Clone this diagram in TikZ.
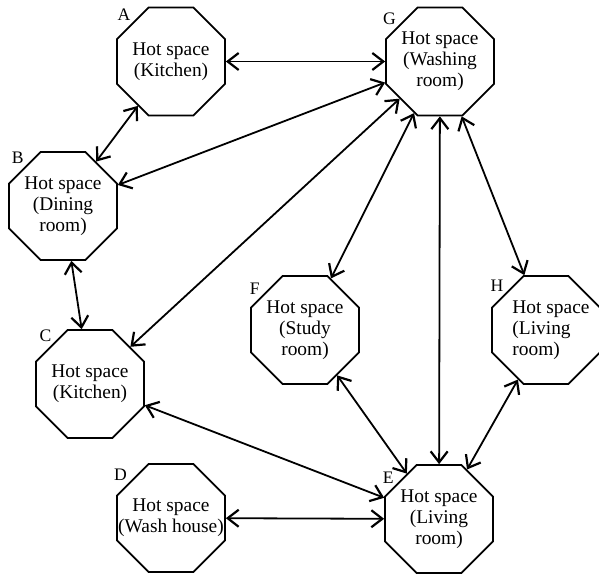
\documentclass[tikz,border=0pt]{standalone}
\usepackage{fontspec}
\setmainfont{Liberation Serif}
\usetikzlibrary{shapes.geometric,arrows.meta}
\tikzset{hot/.style={regular polygon, regular polygon sides=8, draw, minimum size=58.4pt, inner sep=0pt},
         txt/.style={align=center, inner sep=0pt, font=\fontsize{9.7}{10.6}\selectfont},
         tag/.style={inner sep=0.5pt, font=\fontsize{8.8}{10}\selectfont},
         >={Straight Barb[length=5.5pt,width=8.5pt,line width=1.1pt]}}

\begin{document}
\begin{tikzpicture}[x=0.5pt, y=-0.5pt, line width=0.9pt]
           \useasboundingbox (0,0) rectangle (599,577);

           \node (A) [hot, label={[tag]135:A}, label={[txt]center:Hot space\\(Kitchen)}] at (171,61.5) {};
           \node (G) [hot, label={[tag]140:G}, label={[txt]center:Hot space\\(Washing\\room)}] at (440,61.5) {};
           \node (B) [hot, label={[tag]133:B}, label={[txt]center:Hot space\\(Dining\\room)}] at (63,206) {};
           \node (C) [hot, label={[tag]132:C}, label={[txt]center:Hot space\\(Kitchen)}] at (90,384) {};
           \node (D) [hot, label={[tag]140:D}, label={[txt]center:Hot space\\(Wash house)}] at (171,518) {};
           \node (E) [hot, label={[tag]142:E}, label={[txt]center:Hot space\\(Living\\room)}] at (439,519) {};
           \node (F) [hot, label={[tag]142:F}, label={[txt]center:Hot space\\(Study\\room)}] at (305,330) {};
           \node (H) [hot, label={[tag]138:H}, label={[txt, align=left, xshift=2.5pt]center:Hot space\\(Living\\room)}] at (546,330) {};

           \draw[<->] (A) -- (G);
           \draw[<->] (A) -- (B);
           \draw[<->] (G) -- (B);
           \draw[<->] (B) -- (C);
           \draw[<->] (G) -- (C);
           \draw[<->] (G) -- (F);
           \draw[<->] (G) -- (E);
           \draw[<->] (G) -- (H);
           \draw[<->] (F) -- (E);
           \draw[<->] (H) -- (E);
           \draw[<->] (C) -- (E);
           \draw[<->] (D) -- (E);

\end{tikzpicture}
\end{document}
